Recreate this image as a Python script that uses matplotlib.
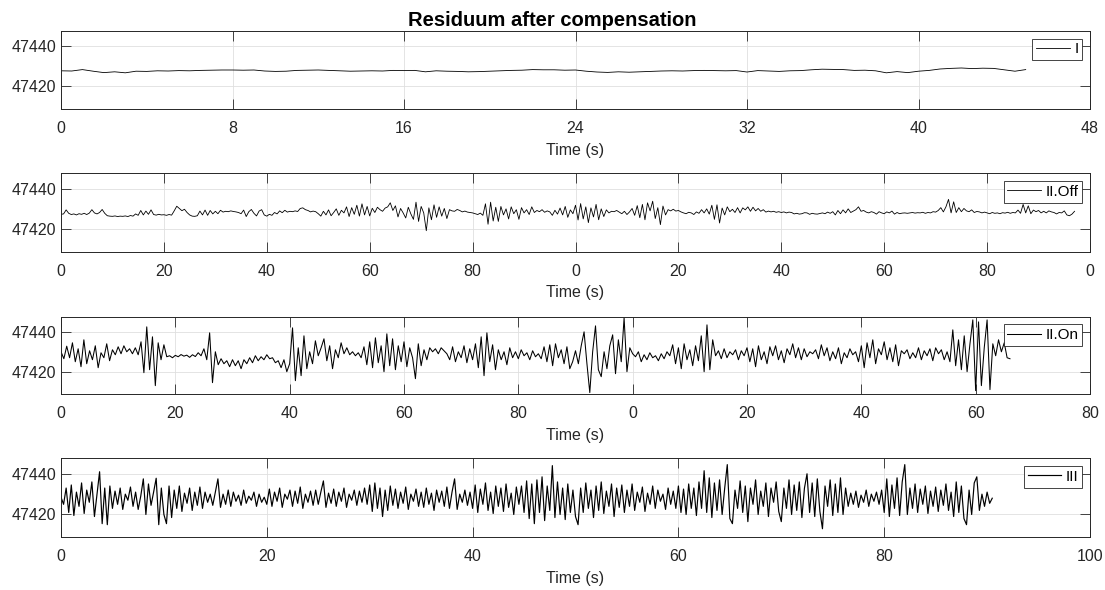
import numpy as np
import matplotlib
matplotlib.use('Agg')
import matplotlib.pyplot as plt

plt.rcParams['font.family'] = ['Liberation Sans', 'DejaVu Sans']

# ---------------- data ----------------
TITLE = 'Residuum after compensation'
XLABEL = 'Time (s)'

# sample intervals (s)
DT_I = 0.5
DT_II_OFF = 0.5
DT_II_ON = 0.5
DT_III = 0.25

res_I = [
    47427.8, 47427.7, 47428.4, 47427.6, 47426.9, 47427.3, 47426.8, 47427.6, 47427.5, 47427.8,
    47427.7, 47427.9, 47427.8, 47428.0, 47428.1, 47428.2, 47428.2, 47428.1, 47428.2, 47427.7,
    47427.5, 47427.6, 47428.0, 47428.1, 47428.2, 47428.0, 47427.8, 47427.6, 47427.7, 47427.8,
    47427.7, 47428.0, 47427.9, 47428.0, 47427.3, 47427.8, 47427.6, 47427.5, 47427.3, 47427.4,
    47427.6, 47427.8, 47428.0, 47428.1, 47428.4, 47428.3, 47428.3, 47428.1, 47428.2, 47427.6,
    47427.2, 47427.0, 47427.3, 47427.1, 47427.3, 47427.5, 47427.7, 47427.8, 47427.7, 47427.9,
    47428.0, 47427.9, 47427.8, 47427.9, 47427.2, 47427.9, 47427.7, 47427.5, 47427.8, 47427.9,
    47428.3, 47428.6, 47428.5, 47428.4, 47428.0, 47428.1, 47427.8, 47426.8, 47427.4, 47426.9,
    47427.6, 47428.0, 47428.7, 47429.0, 47429.2, 47428.9, 47429.1, 47429.0, 47428.3, 47427.6,
    47428.4,
]

res_II_off = [
    47427.3, 47427.5, 47429.5, 47427.8, 47427.2, 47427.5, 47427.0, 47427.6, 47427.3, 47427.8,
    47427.2, 47427.9, 47429.6, 47428.0, 47427.5, 47428.2, 47429.7, 47427.8, 47426.6, 47426.4,
    47426.3, 47426.5, 47426.2, 47426.4, 47426.3, 47426.5, 47426.2, 47426.7, 47426.4, 47427.5,
    47426.8, 47429.2, 47427.0, 47428.9, 47427.3, 47429.5, 47427.2, 47426.9, 47427.3, 47427.0,
    47427.1, 47426.8, 47427.2, 47426.9, 47429.0, 47431.3, 47430.2, 47429.1, 47429.8, 47428.2,
    47427.0, 47426.4, 47426.3, 47426.6, 47428.9, 47427.0, 47429.4, 47426.8, 47429.2, 47427.5,
    47428.8, 47427.6, 47429.3, 47428.4, 47428.8, 47428.6, 47429.0, 47428.7, 47428.5, 47428.2,
    47427.6, 47429.4, 47426.2, 47428.6, 47429.7, 47427.8, 47426.5, 47428.9, 47429.6, 47427.0,
    47426.4, 47427.3, 47426.8, 47428.2, 47427.5, 47429.0, 47428.1, 47429.3, 47428.4, 47428.8,
    47428.6, 47429.0, 47428.7, 47430.2, 47430.5, 47429.6, 47429.2, 47428.5, 47428.9, 47428.6,
    47427.6, 47426.4, 47428.8, 47427.0, 47429.5, 47426.6, 47428.2, 47430.0, 47426.8, 47429.3,
    47428.0, 47431.0, 47426.2, 47430.6, 47427.3, 47431.8, 47426.4, 47432.5, 47427.0, 47431.2,
    47426.5, 47430.3, 47428.2, 47430.8, 47429.6, 47428.8, 47430.4, 47431.0, 47433.0, 47429.2,
    47431.5, 47426.0, 47430.2, 47428.0, 47425.5, 47430.8, 47427.5, 47424.8, 47433.3, 47423.8,
    47431.2, 47428.0, 47419.2, 47430.5, 47424.6, 47432.0, 47425.8, 47431.0, 47426.4, 47430.2,
    47425.2, 47429.6, 47429.0, 47428.8, 47429.7, 47429.2, 47428.5, 47428.9, 47428.4, 47428.2,
    47428.0, 47427.6, 47427.2, 47427.9, 47426.8, 47432.5, 47422.4, 47433.3, 47424.0, 47430.8,
    47423.8, 47431.2, 47427.0, 47430.0, 47425.0, 47431.0, 47427.6, 47429.6, 47424.8, 47430.6,
    47428.0, 47429.6, 47427.2, 47431.0, 47428.2, 47429.2, 47428.6, 47429.6, 47428.3, 47429.0,
    47428.5, 47426.8, 47429.3, 47427.4, 47430.4, 47427.0, 47431.2, 47425.8, 47429.5, 47427.6,
    47431.8, 47424.5, 47432.6, 47425.0, 47431.0, 47423.2, 47430.5, 47426.0, 47432.2, 47424.6,
    47430.0, 47426.2, 47429.5, 47428.0, 47428.8, 47428.6, 47429.2, 47428.4, 47427.6, 47428.8,
    47427.2, 47428.5, 47430.2, 47426.8, 47431.6, 47425.6, 47432.2, 47424.6, 47433.0, 47429.0,
    47433.8, 47425.2, 47430.6, 47422.2, 47431.4, 47427.0, 47429.6, 47429.0, 47429.8, 47428.9,
    47429.2, 47428.5, 47428.0, 47427.6, 47428.3, 47428.0, 47427.2, 47428.5, 47427.8, 47429.6,
    47428.0, 47430.0, 47427.4, 47431.8, 47424.8, 47432.0, 47423.0, 47430.4, 47427.0, 47431.0,
    47428.6, 47429.8, 47428.2, 47430.6, 47428.0, 47430.5, 47429.5, 47431.0, 47428.8, 47430.8,
    47429.0, 47430.2, 47428.8, 47429.6, 47428.4, 47428.9, 47428.5, 47428.8, 47428.3, 47428.6,
    47428.2, 47428.5, 47428.0, 47428.4, 47428.2, 47427.5, 47427.8, 47427.4, 47427.6, 47428.1,
    47428.0, 47427.3, 47427.8, 47427.5, 47427.4, 47427.7, 47428.0, 47427.6, 47428.4, 47427.8,
    47428.6, 47427.0, 47429.2, 47427.6, 47429.5, 47428.0, 47430.0, 47428.2, 47428.9, 47429.6,
    47431.0, 47428.8, 47429.2, 47428.4, 47428.0, 47428.6, 47428.2, 47427.4, 47428.6, 47428.0,
    47427.6, 47428.5, 47428.0, 47428.9, 47427.4, 47428.2, 47427.6, 47427.9, 47428.0, 47427.8,
    47428.0, 47428.2, 47427.9, 47428.1, 47428.0, 47428.3, 47427.8, 47428.2, 47428.0, 47428.6,
    47428.4, 47429.2, 47430.6, 47428.5, 47431.0, 47434.7, 47428.0, 47433.5, 47428.2, 47430.6,
    47428.6, 47430.2, 47429.0, 47428.6, 47429.5, 47428.2, 47428.7, 47428.5, 47428.0, 47428.4,
    47428.0, 47427.6, 47428.2, 47427.8, 47428.0, 47427.6, 47428.1, 47427.9, 47428.3, 47427.8,
    47428.2, 47428.0, 47429.4, 47427.8, 47432.2, 47428.0, 47431.5, 47427.6, 47429.4, 47428.6,
    47429.2, 47428.0, 47428.8, 47428.0, 47429.0, 47428.5, 47428.2, 47427.5, 47428.2, 47428.0,
    47429.0, 47427.0, 47426.6, 47427.4, 47428.8,
]

res_II_on = [
    47430.0, 47426.5, 47432.8, 47427.0, 47434.5, 47425.0, 47431.5, 47422.5, 47436.0, 47424.0,
    47430.5, 47426.0, 47433.0, 47422.0, 47429.5, 47427.0, 47434.0, 47425.5, 47431.0, 47428.5,
    47432.5, 47429.0, 47433.0, 47430.0, 47431.5, 47429.0, 47432.0, 47428.5, 47435.0, 47419.5,
    47442.5, 47421.0, 47437.5, 47413.0, 47434.5, 47426.0, 47433.5, 47427.5, 47428.0, 47427.0,
    47428.2, 47427.5, 47428.6, 47427.8, 47428.3, 47427.2, 47428.5, 47427.6, 47429.5, 47428.0,
    47431.5, 47426.0, 47439.5, 47414.5, 47430.0, 47423.5, 47426.5, 47424.0, 47425.5, 47422.5,
    47426.0, 47423.0, 47425.5, 47421.5, 47426.0, 47424.0, 47427.0, 47424.5, 47428.0, 47425.5,
    47427.5, 47426.0, 47428.5, 47426.5, 47427.0, 47424.5, 47425.5, 47422.0, 47426.0, 47420.0,
    47424.0, 47442.0, 47415.5, 47432.0, 47418.0, 47438.0, 47421.5, 47430.0, 47424.0, 47435.5,
    47428.0, 47432.0, 47436.5, 47425.5, 47433.0, 47421.5, 47431.0, 47427.0, 47434.5, 47429.0,
    47432.0, 47428.5, 47430.0, 47428.0, 47429.5, 47427.0, 47432.5, 47423.5, 47435.0, 47422.0,
    47437.0, 47424.5, 47433.0, 47420.0, 47439.0, 47423.0, 47436.5, 47421.0, 47433.0, 47425.0,
    47435.0, 47422.5, 47432.0, 47427.0, 47416.5, 47434.0, 47423.0, 47431.0, 47426.0, 47432.0,
    47430.0, 47431.5, 47429.0, 47432.0, 47430.5, 47429.0, 47426.0, 47432.5, 47425.0, 47430.0,
    47427.0, 47433.0, 47424.5, 47431.5, 47426.0, 47434.0, 47422.0, 47437.5, 47418.0, 47439.5,
    47425.0, 47433.5, 47421.0, 47431.0, 47426.0, 47430.0, 47423.5, 47432.0, 47427.0, 47430.0,
    47426.5, 47431.0, 47428.0, 47429.5, 47426.0, 47430.5, 47427.5, 47429.0, 47426.5, 47432.5,
    47425.0, 47433.5, 47423.0, 47434.0, 47427.0, 47431.0, 47424.0, 47432.5, 47421.5, 47425.0,
    47430.5, 47424.0, 47433.0, 47440.0, 47424.0, 47409.5, 47430.0, 47443.0, 47421.0, 47417.5,
    47430.0, 47421.5, 47433.0, 47438.5, 47419.0, 47436.0, 47425.0, 47447.0, 47420.0, 47432.0,
    47429.0, 47427.5, 47430.0, 47425.0, 47428.5, 47426.0, 47429.5, 47427.0, 47428.0, 47425.5,
    47429.0, 47426.5, 47430.0, 47428.0, 47433.5, 47424.0, 47432.0, 47421.5, 47434.0, 47426.0,
    47431.0, 47423.0, 47433.0, 47425.5, 47438.0, 47420.0, 47443.5, 47421.0, 47436.0, 47428.0,
    47430.5, 47426.5, 47431.5, 47427.0, 47430.0, 47428.5, 47431.0, 47426.0, 47430.5, 47428.0,
    47432.0, 47425.0, 47431.5, 47422.5, 47433.0, 47426.0, 47430.0, 47424.0, 47432.5, 47428.0,
    47433.0, 47426.0, 47430.5, 47424.5, 47431.5, 47428.5, 47434.0, 47427.0, 47432.0, 47426.0,
    47431.5, 47427.5, 47430.0, 47429.0, 47431.0, 47426.5, 47433.5, 47428.0, 47432.0, 47425.5,
    47430.0, 47426.5, 47432.0, 47424.0, 47429.5, 47427.0, 47431.5, 47428.5, 47430.0, 47425.0,
    47433.0, 47422.0, 47434.5, 47427.0, 47436.0, 47424.0, 47431.5, 47428.5, 47435.0, 47426.0,
    47432.0, 47425.0, 47433.5, 47423.0, 47430.5, 47429.0, 47431.0, 47426.5, 47429.5, 47427.0,
    47432.0, 47426.0, 47430.5, 47428.0, 47431.5, 47425.5, 47432.0, 47429.0, 47431.0, 47426.0,
    47430.0, 47425.0, 47441.0, 47423.0, 47436.0, 47421.0, 47438.0, 47420.0, 47434.0, 47446.0,
    47410.5, 47445.0, 47413.0, 47432.0, 47446.0, 47411.0, 47434.0, 47428.0, 47436.0, 47430.0,
    47434.5, 47427.0, 47426.5,
]

res_III = [
    47428.5, 47425.0, 47433.0, 47421.0, 47434.5, 47419.5, 47431.0, 47424.0, 47435.5, 47420.5,
    47432.0, 47426.0, 47436.0, 47419.0, 47430.0, 47441.0, 47415.5, 47433.0, 47415.0, 47434.0,
    47423.0, 47431.5, 47425.0, 47433.0, 47422.5, 47430.0, 47427.0, 47433.5, 47424.0, 47431.0,
    47422.5, 47429.0, 47437.5, 47420.0, 47435.0, 47424.5, 47431.0, 47437.8, 47415.0, 47433.0,
    47420.0, 47415.5, 47434.0, 47418.5, 47432.0, 47423.0, 47434.0, 47421.5, 47430.5, 47425.5,
    47433.0, 47422.0, 47431.0, 47424.5, 47433.5, 47423.0, 47431.0, 47426.0, 47430.0, 47424.5,
    47431.0, 47437.5, 47423.5, 47430.0, 47425.0, 47432.0, 47424.0, 47431.0, 47426.5, 47429.5,
    47424.5, 47432.0, 47425.5, 47429.0, 47427.0, 47431.0, 47424.0, 47430.0, 47426.0, 47428.5,
    47425.0, 47432.5, 47424.0, 47431.0, 47426.5, 47433.0, 47423.5, 47430.0, 47427.5, 47432.0,
    47424.0, 47431.5, 47425.5, 47433.5, 47423.0, 47430.0, 47426.0, 47431.5, 47424.5, 47432.0,
    47425.0, 47431.0, 47436.5, 47423.5, 47430.5, 47425.5, 47432.5, 47424.0, 47431.0, 47426.5,
    47433.0, 47423.5, 47430.0, 47427.0, 47432.0, 47424.5, 47431.5, 47426.0, 47433.0, 47425.0,
    47434.5, 47421.5, 47435.5, 47423.0, 47433.0, 47419.0, 47432.0, 47422.0, 47434.0, 47424.5,
    47432.5, 47423.0, 47431.0, 47425.5, 47433.5, 47422.5, 47430.0, 47426.5, 47432.5, 47424.0,
    47431.0, 47423.5, 47433.0, 47425.0, 47430.5, 47422.0, 47432.0, 47426.0, 47431.5, 47424.0,
    47433.5, 47423.0, 47431.0, 47437.5, 47422.5, 47430.0, 47426.0, 47432.0, 47424.5, 47431.0,
    47423.0, 47434.5, 47421.0, 47432.5, 47425.0, 47435.5, 47422.0, 47431.0, 47420.5, 47434.0,
    47424.0, 47433.0, 47421.5, 47435.0, 47423.5, 47430.5, 47420.0, 47433.5, 47425.0, 47434.0,
    47421.0, 47436.5, 47418.0, 47435.0, 47415.5, 47437.0, 47421.0, 47438.5, 47417.0, 47434.0,
    47422.0, 47444.0, 47418.5, 47436.0, 47420.0, 47433.0, 47417.5, 47435.0, 47421.0, 47432.0,
    47419.0, 47415.0, 47433.0, 47421.0, 47435.5, 47423.0, 47432.0, 47418.5, 47434.0, 47422.0,
    47436.0, 47420.5, 47431.5, 47424.0, 47435.0, 47419.0, 47433.0, 47423.5, 47434.5, 47421.0,
    47432.0, 47424.0, 47435.0, 47422.0, 47431.0, 47426.0, 47433.5, 47421.5, 47430.5, 47425.0,
    47434.0, 47423.0, 47432.0, 47426.5, 47430.0, 47422.5, 47433.0, 47425.0, 47431.5, 47423.0,
    47434.0, 47421.0, 47432.5, 47420.0, 47435.0, 47423.0, 47433.0, 47419.5, 47436.0, 47423.0,
    47441.5, 47421.0, 47438.0, 47418.5, 47435.5, 47422.0, 47437.0, 47420.0, 47433.0, 47444.5,
    47418.0, 47415.5, 47432.0, 47423.0, 47436.5, 47421.0, 47434.0, 47416.5, 47433.0, 47425.0,
    47437.0, 47420.0, 47431.5, 47424.0, 47435.5, 47419.0, 47433.0, 47426.0, 47436.0, 47421.5,
    47416.5, 47433.0, 47423.0, 47437.0, 47420.0, 47434.5, 47422.0, 47436.0, 47418.5, 47433.0,
    47440.0, 47421.0, 47435.5, 47419.0, 47437.5, 47421.5, 47413.0, 47434.0, 47424.0, 47437.0,
    47419.5, 47435.0, 47421.0, 47438.0, 47420.0, 47433.0, 47424.0, 47430.5, 47425.0, 47431.5,
    47423.5, 47429.5, 47426.0, 47432.0, 47424.0, 47430.0, 47426.5, 47431.0, 47425.0, 47432.0,
    47421.0, 47437.5, 47419.0, 47434.5, 47423.0, 47438.0, 47419.5, 47436.0, 47444.5, 47420.0,
    47433.0, 47423.0, 47435.0, 47421.0, 47432.5, 47425.0, 47434.0, 47420.5, 47431.5, 47424.0,
    47433.5, 47421.5, 47432.0, 47424.5, 47435.0, 47422.0, 47431.0, 47419.0, 47436.0, 47421.0,
    47434.0, 47418.0, 47415.0, 47432.0, 47420.0, 47435.5, 47438.5, 47422.0, 47430.0, 47424.0,
    47431.0, 47425.5, 47428.0,
]

series_labels = ['I', 'II.Off', 'II.On', 'III']

xlim_I = (0, 48)
xticks_I = [0, 8, 16, 24, 32, 40, 48]
xticklabels_I = ['0', '8', '16', '24', '32', '40', '48']

xlim_II_off = (0, 200)
xticks_II_off = [0, 20, 40, 60, 80, 100, 120, 140, 160, 180, 200]
xticklabels_II_off = ['0', '20', '40', '60', '80', '0', '20', '40', '60', '80', '0']

xlim_II_on = (0, 180)
xticks_II_on = [0, 20, 40, 60, 80, 100, 120, 140, 160, 180]
xticklabels_II_on = ['0', '20', '40', '60', '80', '0', '20', '40', '60', '80']

xlim_III = (0, 100)
xticks_III = [0, 20, 40, 60, 80, 100]
xticklabels_III = ['0', '20', '40', '60', '80', '100']

yticks = [47420, 47440]
yticklabels = ['47420', '47440']
ylim = (47408.8, 47447.6)

# ---------------- figure ----------------
W, H = 1105, 590
fig = plt.figure(figsize=(W / 100, H / 100), dpi=100)

AX_LEFT, AX_RIGHT = 61, 1090
panel_tb = [(31, 109), (173.3, 251.7), (316.7, 394), (458.3, 537.3)]
line_widths = [0.6, 0.6, 0.75, 0.85]

INK = '#262626'
GRID = '#DFDFDF'
FS = 11.5

panels = [
    (res_I, DT_I, xlim_I, xticks_I, xticklabels_I),
    (res_II_off, DT_II_OFF, xlim_II_off, xticks_II_off, xticklabels_II_off),
    (res_II_on, DT_II_ON, xlim_II_on, xticks_II_on, xticklabels_II_on),
    (res_III, DT_III, xlim_III, xticks_III, xticklabels_III),
]

for i, ((vals, dt, xl, xt, xtl), (top, bot)) in enumerate(zip(panels, panel_tb)):
    rect = [AX_LEFT / W, 1 - bot / H, (AX_RIGHT - AX_LEFT) / W, (bot - top) / H]
    ax = fig.add_axes(rect)
    y = np.asarray(vals)
    t = np.arange(len(y)) * dt
    ax.plot(t, y, color='black', lw=line_widths[i], label=series_labels[i])
    ax.set_xlim(*xl)
    ax.set_ylim(*ylim)
    ax.set_xticks(xt)
    ax.set_xticklabels(xtl)
    ax.set_yticks(yticks)
    ax.set_yticklabels(yticklabels)
    ax.grid(True, color=GRID, lw=0.6)
    ax.set_axisbelow(True)
    for sp in ax.spines.values():
        sp.set_color(INK)
        sp.set_linewidth(0.7)
    ax.tick_params(axis='both', direction='in', length=7, width=0.6,
                   color=INK, labelcolor=INK, labelsize=FS,
                   top=True, right=True)
    ax.tick_params(axis='x', pad=8.5)
    ax.tick_params(axis='y', pad=3.5)
    ax.set_xlabel(XLABEL, fontsize=FS, color=INK, labelpad=5)
    leg = ax.legend(loc='upper right', fontsize=11, frameon=True, fancybox=False,
                    edgecolor=INK, framealpha=1, borderpad=0.25,
                    handlelength=2.2, handletextpad=0.3, borderaxespad=0.5)
    leg.get_frame().set_linewidth(0.6)

fig.text(0.5, 1 - 26 / H, TITLE, ha='center', va='baseline',
         fontsize=14.5, fontweight='bold', color='black')

fig.savefig('out.png', dpi=100)
